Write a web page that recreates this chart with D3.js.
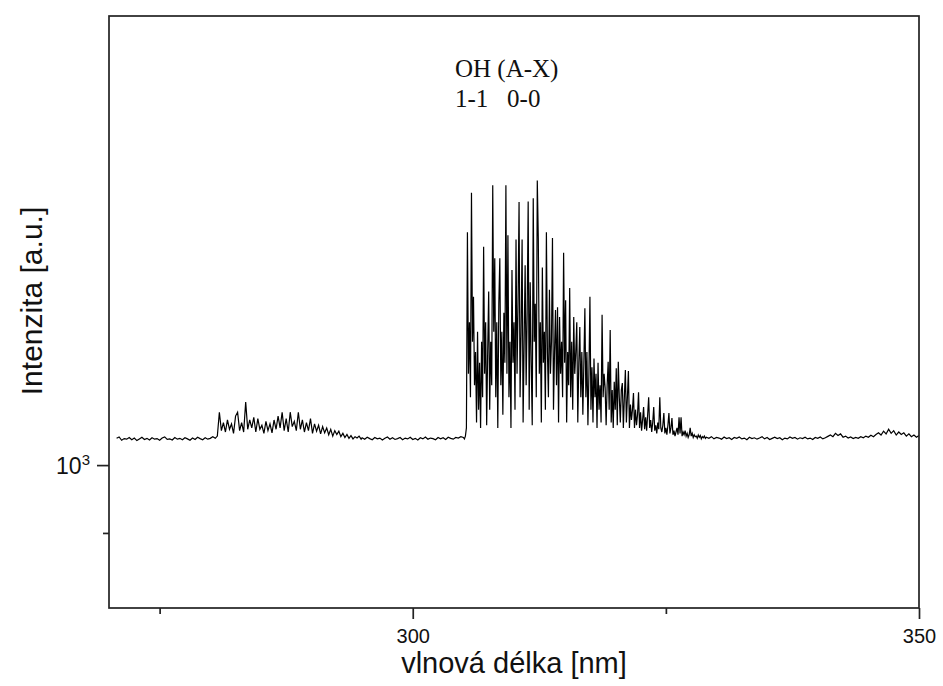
<!DOCTYPE html>
<html>
<head>
<meta charset="utf-8">
<script src="https://cdn.jsdelivr.net/npm/d3@7"></script>
<style>
  body { margin: 0; background: #fff; }
  svg { display: block; }
  .axis path, .axis line { stroke: #222; stroke-width: 1.7; }
  .axis text { font-family: "Liberation Sans", Arial, sans-serif; font-size: 20px; fill: #111; }
</style>
</head>
<body>
<div id="chart"></div>
<script>
// ---- data: OH (A-X) emission spectrum, intensity in a.u. ----
// each segment is sampled on a regular wavelength grid (start, step)
const segStart = [270.75, 280.5, 295.0, 305.0, 329.0];
const segStep = [0.25, 0.2, 0.25, 0.1, 0.25];

// 270.75 - 280.25 nm, baseline
const baseLeft = [
  1092, 1097, 1085, 1091, 1089, 1095, 1087,
  1093, 1084, 1090, 1096, 1088, 1092, 1086, 1094, 1089, 1091,
  1085, 1093, 1097, 1088, 1090, 1086, 1095, 1089, 1092, 1087,
  1094, 1090, 1085, 1093, 1088, 1096, 1091, 1087, 1094, 1089,
  1092, 1098
];
// 280.5 - 294.9 nm, 1-1 band
const band11 = [
  1092, 1100, 1190, 1120, 1150, 1115, 1160, 1125, 1145, 1110,
  1175, 1190, 1120, 1150, 1115, 1230, 1125, 1160, 1130, 1170,
  1115, 1165, 1125, 1140, 1110, 1155, 1120, 1145, 1112, 1160,
  1125, 1175, 1130, 1190, 1120, 1165, 1115, 1190, 1135, 1155,
  1120, 1190, 1125, 1160, 1115, 1150, 1120, 1165, 1110, 1145,
  1118, 1140, 1108, 1135, 1112, 1130, 1105, 1125, 1100, 1120,
  1106, 1118, 1098, 1110, 1095, 1106, 1092, 1102, 1090, 1098,
  1093, 1100, 1089
];
// 295 - 304.75 nm, baseline
const baseMid = [
  1094, 1089, 1096, 1091, 1087, 1095, 1090, 1093, 1086, 1092,
  1097, 1089, 1094, 1088, 1091, 1095, 1087, 1093, 1090, 1096,
  1088, 1092, 1086, 1094, 1090, 1097, 1089, 1093, 1091, 1087,
  1095, 1090, 1094, 1088, 1096, 1092, 1089, 1095, 1093, 1098
];
// 305 - 328.9 nm, 0-0 band (one row per nm)
const band00 = [
  1095, 1090, 1100, 1130, 2150, 1350, 1600, 1250, 2450, 1500,
  1740, 1300, 1450, 1150, 1550, 1200, 1400, 1130, 1500, 1250,
  2050, 1350, 1600, 1140, 1450, 1770, 1200, 1500, 1300, 2510,
  1550, 1975, 1250, 1600, 1130, 1700, 1975, 1300, 1550, 1180,
  1650, 1400, 2510, 1350, 2130, 1250, 1500, 1130, 1900, 1400,
  1600, 1200, 2100, 1350, 1700, 2375, 1250, 1550, 2100, 1150,
  1500, 1930, 1300, 1650, 2380, 1200, 1825, 1400, 1140, 2405,
  1500, 1700, 1250, 2550, 2110, 1350, 1600, 1150, 1915, 1400,
  1550, 1200, 2150, 1450, 1250, 1780, 1350, 1500, 2110, 1200,
  1450, 1665, 1300, 1680, 1150, 1627, 1350, 1500, 1250, 2010,
  1400, 1720, 1150, 1450, 1300, 1790, 1250, 1500, 1200, 1627,
  1350, 1450, 1600, 1150, 1400, 1575, 1250, 1450, 1180, 1400,
  1675, 1250, 1450, 1140, 1350, 1740, 1200, 1380, 1150, 1420,
  1250, 1350, 1130, 1400, 1200, 1300, 1150, 1640, 1250, 1350,
  1290, 1140, 1300, 1405, 1200, 1560, 1150, 1280, 1130, 1315,
  1200, 1375, 1140, 1405, 1250, 1150, 1280, 1310, 1130, 1250,
  1367, 1150, 1250, 1363, 1130, 1220, 1160, 1200, 1267, 1130,
  1200, 1140, 1180, 1271, 1130, 1190, 1120, 1160, 1210, 1125,
  1170, 1120, 1180, 1250, 1130, 1160, 1115, 1150, 1210, 1120,
  1140, 1110, 1150, 1125, 1250, 1130, 1115, 1140, 1187, 1110,
  1130, 1105, 1140, 1187, 1110, 1130, 1167, 1105, 1120, 1100,
  1115, 1130, 1105, 1170, 1110, 1170, 1100, 1115, 1105, 1120,
  1100, 1110, 1095, 1105, 1130, 1100, 1110, 1095, 1105, 1098,
  1100, 1092, 1104, 1096, 1102, 1090, 1098, 1094, 1100, 1092
];
// 329 - 350 nm, baseline
const baseRight = [
  1096, 1092, 1098, 1090, 1095, 1093, 1089, 1097, 1091, 1094,
  1088, 1095, 1092, 1097, 1090, 1093, 1087, 1096, 1091, 1094,
  1089, 1093, 1098, 1090, 1095, 1088, 1092, 1096, 1091, 1094,
  1087, 1093, 1090, 1097, 1092, 1095, 1089, 1094, 1091, 1096,
  1090, 1093, 1088, 1095, 1092, 1097, 1090, 1094, 1099, 1104,
  1098, 1110, 1102, 1108, 1096, 1100, 1093, 1097, 1091, 1095,
  1092, 1098, 1094, 1100, 1096, 1103, 1098, 1106, 1112, 1104,
  1118, 1108, 1125, 1110, 1120, 1104, 1115, 1106, 1112, 1100,
  1108, 1098, 1104, 1096, 1102
];

const xMajor = [300, 350];
const xMinor = [275, 325];
const yMajor = [1000];
const yMinor = [800];
const titleLines = ["OH (A-X)", "1-1   0-0"];

// ---- build the series ----
const segments = [baseLeft, band11, baseMid, band00, baseRight];
let spectrum = [];
segments.forEach((vals, s) => {
  vals.forEach((v, i) => {
    spectrum.push({ wl: segStart[s] + i * segStep[s], I: v });
  });
});

// ---- layout ----
const W = 943, H = 686;
const mLeft = 109, mRight = 919, mTop = 16, mBottom = 608;

const svg = d3.select("#chart").append("svg")
  .attr("width", W)
  .attr("height", H);

const x = d3.scaleLinear().domain([270, 350]).range([mLeft, mRight]);
const y = d3.scaleLog().domain([625, 4380]).range([mBottom, mTop]);

// spectrum line
svg.append("path")
  .datum(spectrum)
  .attr("fill", "none")
  .attr("stroke", "#000")
  .attr("stroke-width", 1.2)
  .attr("d", d3.line().x(d => x(d.wl)).y(d => y(d.I)));

// frame
svg.append("rect")
  .attr("x", mLeft).attr("y", mTop)
  .attr("width", mRight - mLeft).attr("height", mBottom - mTop)
  .attr("fill", "none")
  .attr("stroke", "#222")
  .attr("stroke-width", 1.7);

// x axis
svg.append("g")
  .attr("class", "axis")
  .attr("transform", `translate(0,${mBottom})`)
  .call(d3.axisBottom(x).tickValues(xMajor).tickSize(11).tickPadding(10).tickFormat(d3.format("d")))
  .call(g => g.select(".domain").remove());
svg.append("g")
  .attr("class", "axis")
  .attr("transform", `translate(0,${mBottom})`)
  .call(d3.axisBottom(x).tickValues(xMinor).tickSize(6).tickFormat(""))
  .call(g => g.select(".domain").remove());

// y axis
const yAx = svg.append("g")
  .attr("class", "axis")
  .attr("transform", `translate(${mLeft},0)`)
  .call(d3.axisLeft(y).tickValues(yMajor).tickSize(12).tickPadding(8).tickFormat(""))
  .call(g => g.select(".domain").remove());
const yLab = yAx.selectAll(".tick").append("text")
  .attr("x", -19)
  .attr("dy", "0.38em")
  .attr("text-anchor", "end")
  .style("font-size", "23px")
  .attr("fill", "#111");
yLab.append("tspan").text("10");
yLab.append("tspan")
  .attr("dy", "-0.6em")
  .style("font-size", "15px")
  .text(d => Math.round(Math.log10(d)));
svg.append("g")
  .attr("class", "axis")
  .attr("transform", `translate(${mLeft},0)`)
  .call(d3.axisLeft(y).tickValues(yMinor).tickSize(6).tickFormat(""))
  .call(g => g.select(".domain").remove());

// axis titles
svg.append("text")
  .attr("x", 514).attr("y", 673)
  .attr("text-anchor", "middle")
  .style("font-family", "'Liberation Sans', Arial, sans-serif")
  .style("font-size", "29px")
  .attr("fill", "#111")
  .text("vlnová délka [nm]");

svg.append("text")
  .attr("transform", "translate(42,301) rotate(-90)")
  .attr("text-anchor", "middle")
  .style("font-family", "'Liberation Sans', Arial, sans-serif")
  .style("font-size", "30px")
  .attr("fill", "#111")
  .text("Intenzita [a.u.]");

// band annotation
svg.selectAll(".note")
  .data(titleLines)
  .enter()
  .append("text")
  .attr("class", "note")
  .attr("x", 455)
  .attr("y", (d, i) => 77 + i * 30)
  .style("font-family", "'Liberation Serif', 'Times New Roman', serif")
  .style("font-size", "25px")
  .style("white-space", "pre")
  .attr("xml:space", "preserve")
  .attr("fill", "#111")
  .text(d => d);
</script>
</body>
</html>
